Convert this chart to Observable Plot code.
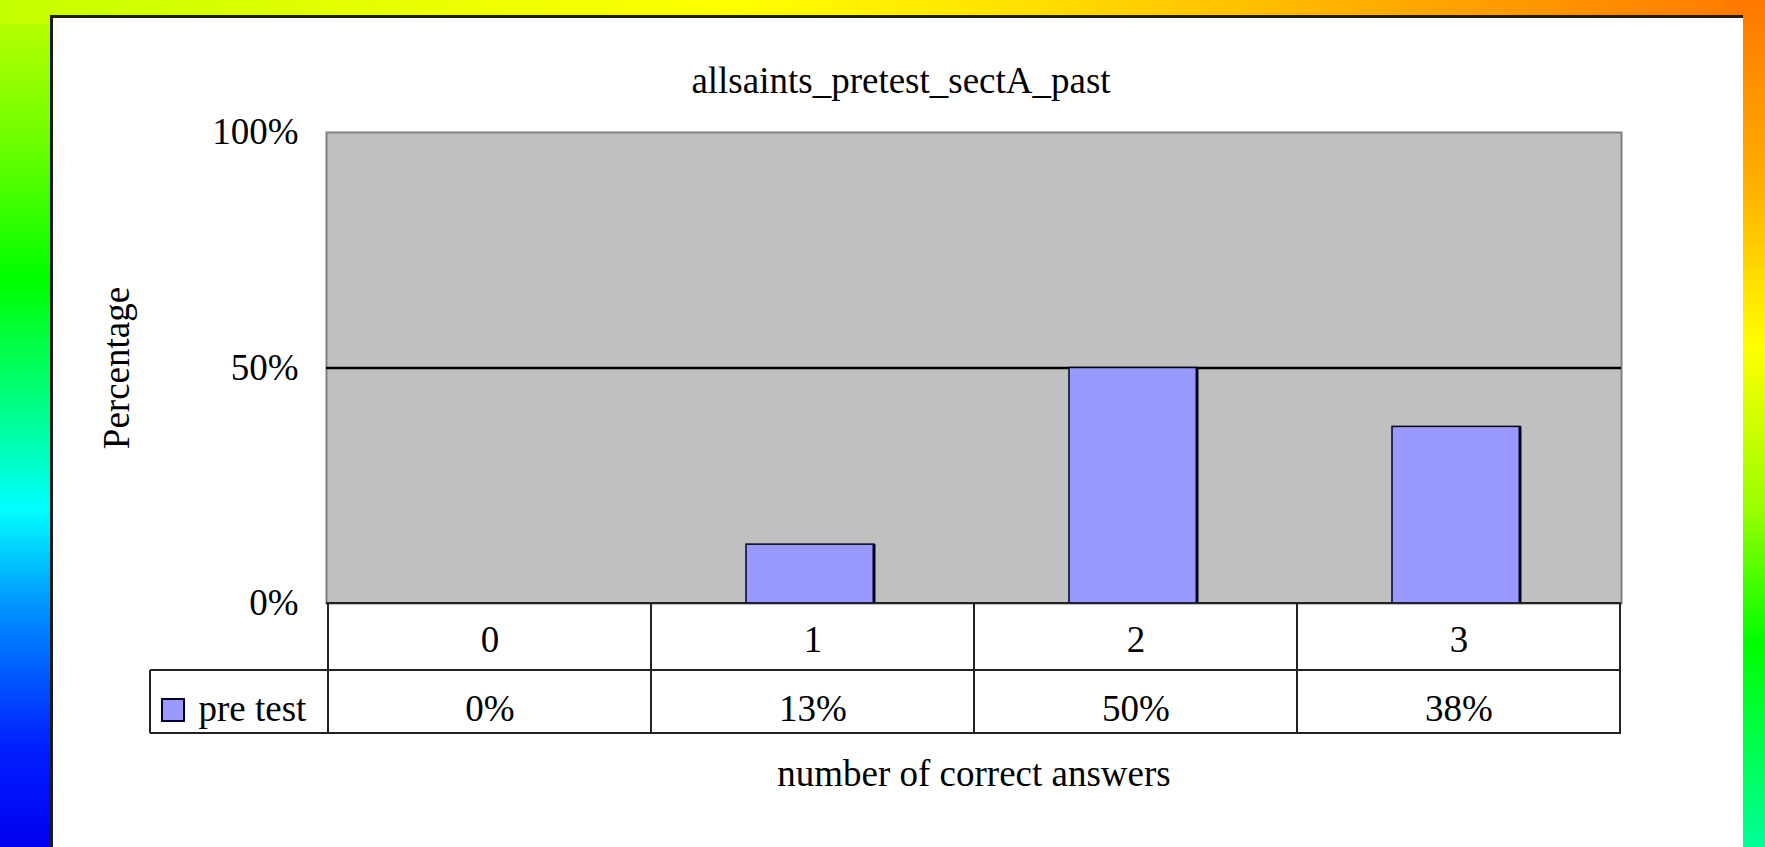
<!DOCTYPE html>
<html>
<head>
<meta charset="utf-8">
<script src="https://cdn.jsdelivr.net/npm/d3@7"></script>
<script src="https://cdn.jsdelivr.net/npm/@observablehq/plot@0.6"></script>
<style>
  html, body { margin: 0; padding: 0; width: 1765px; height: 847px; overflow: hidden; background: #fff; }
  .strip { position: absolute; }
  #left { left: 0; top: 0; width: 60px; height: 847px;
    background: linear-gradient(to bottom, #c4ff00 0%, #66ff00 18%, #00ff00 33%, #00ff99 50%, #00ffff 60%, #0090ff 72%, #0020ff 88%, #0000f0 100%); }
  #top { left: 0; top: 0; width: 1765px; height: 24px;
    background: linear-gradient(to right, #c4ff00 0%, #ecff00 25%, #ffff00 42%, #ffe000 58%, #ffa800 80%, #ff7800 100%); }
  #right { right: 0; top: 0; width: 40px; height: 847px;
    background: linear-gradient(to bottom, #ff7800 0%, #ffb000 22%, #ffff00 41%, #99ff00 60%, #00ff00 76%, #00ff99 100%); }
  #panel { position: absolute; left: 50px; top: 15px; width: 1690px; height: 840px; background: #fff;
    border-top: 3px solid #1c1c1c; border-left: 3px solid #1c1c1c; }
  #chart { position: absolute; left: 0; top: 0; }
</style>
</head>
<body>
<div class="strip" id="left"></div>
<div class="strip" id="top"></div>
<div class="strip" id="right"></div>
<div id="panel"></div>
<div id="chart"></div>
<script>
// ---- data ----
const categories = ["0", "1", "2", "3"];
const pretest = [0, 0.125, 0.5, 0.375];
const yTicks = [0, 0.5, 1];
const seriesName = "pre test";
const titleText = "allsaints_pretest_sectA_past";
const xLabel = "number of correct answers";
const yLabel = "Percentage";

const data = categories.map((c, i) => ({answers: c, pct: pretest[i]}));
const pctFmt = d3.format(".0%");

const barColor = "#9999ff";
const lineColor = "#222";

// data table under the plot (grid drawn from the x band scale)
function tableGrid(index, scales, values, dim) {
  const sx = scales.x;
  const bw = typeof sx.bandwidth === "function" ? sx.bandwidth() : sx.bandwidth;
  const x0 = dim.marginLeft, x1 = dim.width - dim.marginRight;
  const yTop = dim.height - dim.marginBottom;
  const r1 = yTop + 67, r2 = yTop + 130;
  const legendLeft = 150;
  const g = d3.create("svg:g").attr("stroke", lineColor).attr("stroke-width", 2).attr("fill", "none");
  const line = (xa, ya, xb, yb) => g.append("line").attr("x1", xa).attr("y1", ya).attr("x2", xb).attr("y2", yb);
  line(x0, yTop, x1, yTop);
  line(legendLeft, r1, x1, r1);
  line(legendLeft, r2, x1, r2);
  line(legendLeft, r1, legendLeft, r2);
  categories.forEach(c => line(sx(c), yTop, sx(c), r2));
  line(sx(categories[categories.length - 1]) + bw, yTop, sx(categories[categories.length - 1]) + bw, r2);
  // legend swatch
  g.append("rect").attr("x", 162).attr("y", r1 + 29).attr("width", 22).attr("height", 22)
    .attr("fill", barColor).attr("stroke", "#000033").attr("stroke-width", 2);
  return g.node();
}

const chart = Plot.plot({
  width: 1765,
  height: 847,
  marginLeft: 326,
  marginRight: 144,
  marginTop: 132,
  marginBottom: 244,
  style: {background: "transparent", fontFamily: "'Liberation Serif', 'Times New Roman', serif", fontSize: "37px", color: "#000"},
  x: {type: "band", domain: categories, padding: 0, axis: null},
  y: {domain: [0, 1], axis: null},
  marks: [
    Plot.frame({fill: "#c0c0c0", stroke: "#808080", strokeWidth: 2}),
    Plot.ruleY([0.5], {stroke: "#000", strokeWidth: 2.5}),
    Plot.barY(data, {x: "answers", y: "pct", fill: barColor, stroke: "#000022", strokeWidth: 1.5, insetLeft: 95, insetRight: 100}),
    Plot.ruleX(data.filter(d => d.pct > 0), {x: "answers", y1: 0, y2: "pct", dx: 61, stroke: "#000022", strokeWidth: 3}),
    Plot.axisY({ticks: yTicks, tickFormat: pctFmt, tickSize: 0, tickPadding: 28, label: null, fontSize: 37}),
    tableGrid,
    Plot.text(categories, {x: d => d, text: d => d, frameAnchor: "bottom", lineAnchor: "middle", dy: 37, fontSize: 37}),
    Plot.text(data, {x: "answers", text: d => pctFmt(d.pct), frameAnchor: "bottom", lineAnchor: "middle", dy: 106, fontSize: 37}),
    Plot.text([seriesName], {text: d => d, frameAnchor: "bottom-left", lineAnchor: "middle", dx: -128, dy: 106, textAnchor: "start", fontSize: 37}),
    Plot.text([xLabel], {text: d => d, frameAnchor: "bottom", lineAnchor: "middle", dy: 171, fontSize: 37}),
    Plot.text([yLabel], {text: d => d, frameAnchor: "left", lineAnchor: "middle", textAnchor: "middle", dx: -209, rotate: -90, fontSize: 37}),
    Plot.text([titleText], {text: d => d, frameAnchor: "top", lineAnchor: "middle", dx: -73, dy: -51, fontSize: 37})
  ]
});
document.getElementById("chart").appendChild(chart);
</script>
</body>
</html>
